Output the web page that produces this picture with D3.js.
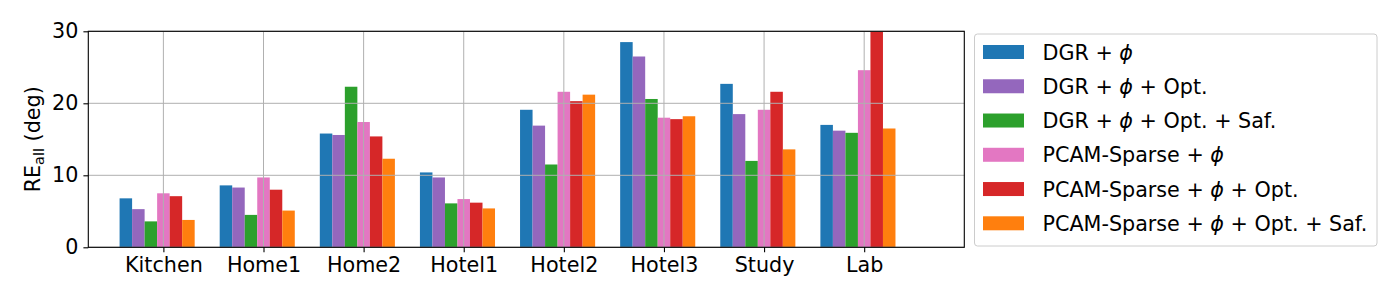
<!DOCTYPE html>
<html>
<head>
<meta charset="utf-8">
<script src="https://cdn.jsdelivr.net/npm/d3@7"></script>
<style>
  body { margin: 0; background: #fff; }
  text { font-family: "DejaVu Sans", sans-serif; fill: #000; }
</style>
</head>
<body>
<div id="chart"></div>
<script>
var width = 1400;
var height = 300;

var scenes = ["Kitchen", "Home1", "Home2", "Hotel1", "Hotel2", "Hotel3", "Study", "Lab"];
var seriesNames = [
  ["DGR + ", "ϕ", ""],
  ["DGR + ", "ϕ", " + Opt."],
  ["DGR + ", "ϕ", " + Opt. + Saf."],
  ["PCAM-Sparse + ", "ϕ", ""],
  ["PCAM-Sparse + ", "ϕ", " + Opt."],
  ["PCAM-Sparse + ", "ϕ", " + Opt. + Saf."]
];
var colors = ["#1f77b4", "#9467bd", "#2ca02c", "#e377c2", "#d62728", "#ff7f0e"];

var dgrPhi         = [6.8, 8.6, 15.8, 10.4, 19.1, 28.5, 22.7, 17.0];
var dgrPhiOpt      = [5.3, 8.3, 15.6, 9.7, 16.9, 26.5, 18.5, 16.2];
var dgrPhiOptSaf   = [3.6, 4.5, 22.3, 6.1, 11.5, 20.6, 12.0, 15.9];
var pcamPhi        = [7.5, 9.7, 17.4, 6.7, 21.6, 18.0, 19.1, 24.6];
var pcamPhiOpt     = [7.1, 8.0, 15.4, 6.2, 20.3, 17.8, 21.6, 32.0];
var pcamPhiOptSaf  = [3.8, 5.1, 12.3, 5.4, 21.2, 18.2, 13.6, 16.5];
var series = [dgrPhi, dgrPhiOpt, dgrPhiOptSaf, pcamPhi, pcamPhiOpt, pcamPhiOptSaf];
var yTicks = [0, 10, 20, 30];

var padLeft = 88.3, padRight = 964.3, padTop = 31.3, padBottom = 247.3;
var barW = 0.125;
var fontSize = "20.7px";

var svg = d3.select("#chart").append("svg")
  .attr("width", width).attr("height", height);

var xscale = d3.scaleLinear().domain([-0.75, 8.0]).range([padLeft, padRight]);
var yscale = d3.scaleLinear().domain([0, 30]).range([padBottom, padTop]);

svg.append("defs").append("clipPath").attr("id", "plot-clip")
  .append("rect").attr("x", padLeft).attr("y", padTop)
  .attr("width", padRight - padLeft).attr("height", padBottom - padTop);

// bars
var bars = svg.append("g").attr("clip-path", "url(#plot-clip)");
series.forEach(function (vals, s) {
  bars.selectAll(".b" + s)
    .data(vals)
    .enter()
    .append("rect")
    .attr("x", function (d, i) { return xscale(i + (s - 3.5) * barW); })
    .attr("width", xscale(barW) - xscale(0))
    .attr("y", function (d) { return yscale(d); })
    .attr("height", function (d) { return yscale(0) - yscale(d); })
    .attr("fill", colors[s]);
});

// grid (drawn over the bars like matplotlib)
var grid = svg.append("g").attr("stroke", "#b0b0b0").attr("stroke-width", 1);
grid.selectAll(".gy").data(yTicks).enter().append("line")
  .attr("x1", padLeft).attr("x2", padRight)
  .attr("y1", function (d) { return yscale(d); })
  .attr("y2", function (d) { return yscale(d); });
grid.selectAll(".gx").data(scenes).enter().append("line")
  .attr("x1", function (d, i) { return xscale(i); })
  .attr("x2", function (d, i) { return xscale(i); })
  .attr("y1", padTop).attr("y2", padBottom);

// axes
var yaxis = d3.axisLeft(yscale).tickValues(yTicks).tickSize(4.9).tickPadding(5).tickSizeOuter(0);
var gy = svg.append("g").attr("transform", "translate(" + padLeft + ",0)").call(yaxis);
gy.select(".domain").remove();
gy.selectAll("text").attr("font-size", fontSize).attr("font-family", "DejaVu Sans");
gy.selectAll("line").attr("stroke", "#000").attr("stroke-width", 1.1);

var xaxis = d3.axisBottom(xscale).tickValues(d3.range(scenes.length))
  .tickFormat(function (d) { return scenes[d]; }).tickSize(4.9).tickPadding(5).tickSizeOuter(0);
var gx = svg.append("g").attr("transform", "translate(0," + padBottom + ")").call(xaxis);
gx.select(".domain").remove();
gx.selectAll("text").attr("font-size", fontSize).attr("font-family", "DejaVu Sans");
gx.selectAll("line").attr("stroke", "#000").attr("stroke-width", 1.1);

svg.append("rect")
  .attr("x", padLeft).attr("y", padTop)
  .attr("width", padRight - padLeft).attr("height", padBottom - padTop)
  .attr("fill", "none").attr("stroke", "#000").attr("stroke-width", 1.1);

// y label
var ylab = svg.append("text")
  .attr("transform", "translate(40," + ((padTop + padBottom) / 2) + ") rotate(-90)")
  .attr("text-anchor", "middle")
  .attr("font-size", fontSize);
ylab.append("tspan").text("RE");
ylab.append("tspan").attr("font-size", "14.5px").attr("dy", 4).text("all");
ylab.append("tspan").attr("dy", -4).text(" (deg)");

// legend
var legend = svg.append("g");
legend.append("rect")
  .attr("x", 974.5).attr("y", 34).attr("width", 402.5).attr("height", 212)
  .attr("rx", 3).attr("fill", "#fff").attr("fill-opacity", 0.8)
  .attr("stroke", "#cccccc").attr("stroke-width", 1);
seriesNames.forEach(function (n, s) {
  var cy = 52 + s * 34.26;
  legend.append("rect")
    .attr("x", 983).attr("y", cy - 7).attr("width", 41).attr("height", 14)
    .attr("fill", colors[s]);
  var t = legend.append("text")
    .attr("x", 1042.5).attr("y", cy + 7.5)
    .attr("font-size", fontSize);
  t.append("tspan").text(n[0]);
  t.append("tspan").attr("font-style", "italic").text(n[1]);
  t.append("tspan").text(n[2]);
});
</script>
</body>
</html>
